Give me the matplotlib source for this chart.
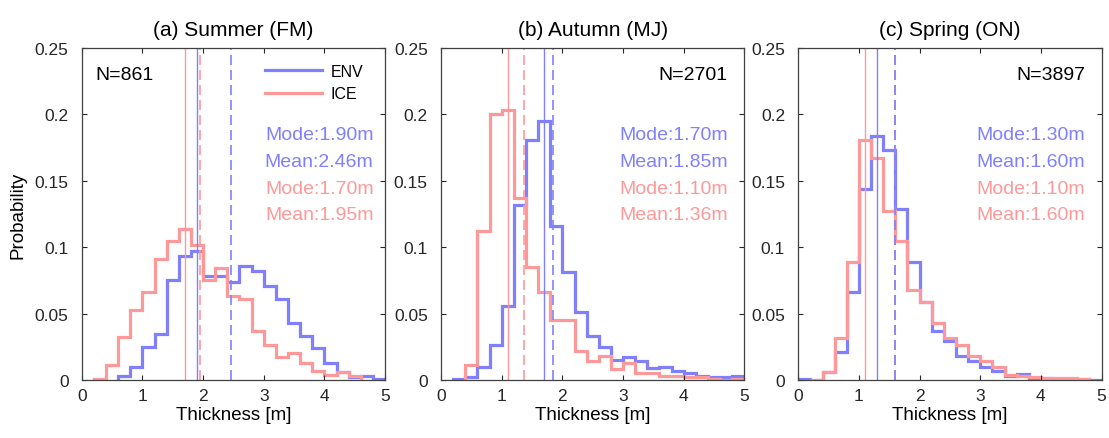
import numpy as np
import matplotlib
matplotlib.use("Agg")
import matplotlib.pyplot as plt

plt.rcParams['font.family'] = ['Liberation Sans', 'DejaVu Sans']

# histogram probabilities, 0.2 m bins
bin_w = 0.2
titles = ['(a) Summer (FM)', '(b) Autumn (MJ)', '(c) Spring (ON)']
counts = [861, 2701, 3897]

env_start = [0.6, 0.2, 0.0]
env_prob = [
    [0.003, 0.010, 0.0245, 0.0345, 0.075, 0.093, 0.097, 0.078, 0.078, 0.074, 0.086,
     0.082, 0.071, 0.061, 0.043, 0.033, 0.024, 0.013, 0.006, 0.002, 0.003, 0.001],
    [0.001, 0.002, 0.010, 0.026, 0.056, 0.132, 0.181, 0.195, 0.116, 0.081, 0.051, 0.033,
     0.025, 0.015, 0.017, 0.014, 0.009, 0.0095, 0.007, 0.005, 0.003, 0.0025, 0.002, 0.003],
    [0.001, 0.0, 0.006, 0.021, 0.066, 0.144, 0.184, 0.173, 0.129, 0.089, 0.059, 0.037, 0.029,
     0.018, 0.014, 0.010, 0.007, 0.003, 0.0045, 0.001, 0.0015, 0.001, 0.001, 0.0005, 0.0],
]
ice_start = [0.2, 0.4, 0.2]
ice_prob = [
    [0.001, 0.011, 0.0325, 0.053, 0.066, 0.091, 0.105, 0.114, 0.102, 0.075, 0.084,
     0.063, 0.061, 0.037, 0.026, 0.017, 0.020, 0.013, 0.007, 0.004, 0.006, 0.003],
    [0.011, 0.112, 0.200, 0.203, 0.137, 0.085, 0.066, 0.045, 0.045, 0.022, 0.0145, 0.018,
     0.008, 0.013, 0.005, 0.005, 0.003, 0.003, 0.002, 0.002, 0.001, 0.0, 0.001],
    [0.0, 0.006, 0.032, 0.0886, 0.181, 0.167, 0.1275, 0.105, 0.068, 0.059, 0.043, 0.032,
     0.026, 0.018, 0.014, 0.010, 0.004, 0.003, 0.0025, 0.0015, 0.0015, 0.0015, 0.001],
]

env_mode = [1.90, 1.70, 1.30]
env_mean = [2.46, 1.85, 1.60]
ice_mode = [1.70, 1.10, 1.10]
ice_mean = [1.95, 1.36, 1.60]

blue = '#8080FF'
red = '#FF9999'

fig = plt.figure(figsize=(11.09, 4.39), dpi=100)
lefts = [0.0737, 0.3977, 0.7198]

for i in range(3):
    ax = fig.add_axes([lefts[i], 0.1321, 0.2735, 0.7563])

    e_edges = env_start[i] + bin_w * np.arange(len(env_prob[i]) + 1)
    r_edges = ice_start[i] + bin_w * np.arange(len(ice_prob[i]) + 1)
    ax.stairs(env_prob[i], e_edges, color=blue, lw=2.3, label='ENV', baseline=0)
    ax.stairs(ice_prob[i], r_edges, color=red, lw=2.3, label='ICE', baseline=0)

    # mode (solid) and mean (dashed) lines
    ax.axvline(ice_mode[i], color=red, lw=1)
    ax.axvline(env_mode[i], color=blue, lw=1)
    ax.axvline(ice_mean[i], color=red, lw=1.2, ls=(0, (6, 3)))
    ax.axvline(env_mean[i], color=blue, lw=1.2, ls=(0, (6, 3)))

    ax.set_xlim(0, 5)
    ax.set_ylim(0, 0.25)
    ax.set_xticks([0, 1, 2, 3, 4, 5])
    ax.set_yticks([0, 0.05, 0.1, 0.15, 0.2, 0.25])
    ax.set_yticklabels(['0', '0.05', '0.1', '0.15', '0.2', '0.25'])
    ax.tick_params(direction='in', top=True, right=True, length=3.5, width=0.8,
                   labelsize=12.5, colors='#262626')
    ax.tick_params(axis='x', pad=6)
    ax.tick_params(axis='y', pad=9.5)
    for s in ax.spines.values():
        s.set_color('#404040')
        s.set_linewidth(0.9)

    ax.set_title(titles[i], fontsize=15, pad=9)
    ax.set_xlabel('Thickness [m]', fontsize=13.5, labelpad=2)
    if i == 0:
        ax.set_ylabel('Probability', fontsize=13.5, labelpad=6)

    if i == 0:
        ax.text(0.044, 0.92, 'N=%d' % counts[i], transform=ax.transAxes,
                fontsize=14, ha='left', va='center')
        ax.legend(loc='upper right', bbox_to_anchor=(0.975, 0.995), frameon=False,
                  fontsize=11.5, handlelength=3.6, handletextpad=0.5, labelspacing=0.45)
        tx = 0.962
    else:
        ax.text(0.945, 0.92, 'N=%d' % counts[i], transform=ax.transAxes,
                fontsize=14, ha='right', va='center')
        tx = 0.945

    lines = [('Mode:%.2fm' % env_mode[i], blue), ('Mean:%.2fm' % env_mean[i], blue),
             ('Mode:%.2fm' % ice_mode[i], red), ('Mean:%.2fm' % ice_mean[i], red)]
    for k, (t, c) in enumerate(lines):
        ax.text(tx, 0.738 - 0.08 * k, t, transform=ax.transAxes, fontsize=14,
                ha='right', va='center', color=c)

fig.savefig('out.png', dpi=100)
